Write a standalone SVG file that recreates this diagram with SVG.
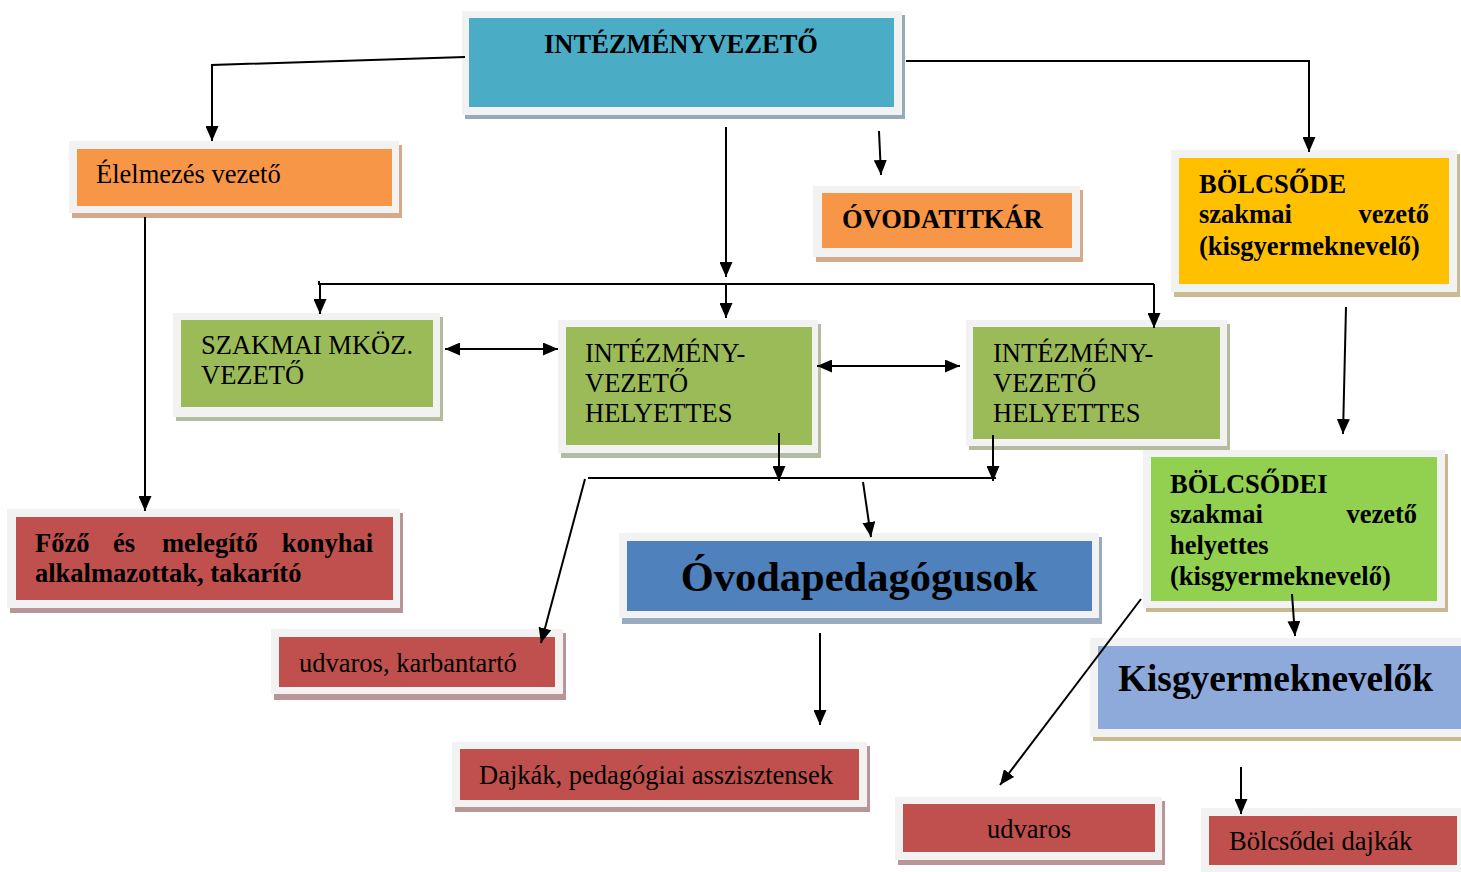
<svg xmlns="http://www.w3.org/2000/svg" width="1461" height="872" viewBox="0 0 1461 872">
<defs>
<marker id="ah" markerUnits="userSpaceOnUse" markerWidth="15" markerHeight="13" refX="15" refY="6.5" orient="auto-start-reverse" viewBox="0 0 15 13">
<path d="M0,0 L15,6.5 L0,13 z" fill="#000"/>
</marker>
<style>
.frame{fill:#f2f2f2}
.t{font-family:"Liberation Serif","Times New Roman",serif;font-size:26.5px;fill:#000}
.b{font-weight:bold}
.c{stroke:#000;stroke-width:2;fill:none}
.a{marker-end:url(#ah)}
.d{marker-start:url(#ah);marker-end:url(#ah)}
</style>
</defs>
<rect width="1461" height="872" fill="#fff"/>

<g id="intezmenyvezeto">
<rect x="465" y="15" width="440" height="104" fill="#93abb6"/>
<rect class="frame" x="462" y="11" width="440" height="104"/>
<rect x="469" y="18" width="425" height="89" fill="#4bacc6"/>
<text class="t b" x="681" y="53" text-anchor="middle">INTÉZMÉNYVEZETŐ</text>
</g>

<g id="elelmezes">
<rect x="72" y="145" width="330" height="73" fill="#d6a98a"/>
<rect class="frame" x="69" y="141" width="330" height="72"/>
<rect x="77" y="149" width="315" height="57" fill="#f79646"/>
<text class="t" x="96" y="183">Élelmezés vezető</text>
</g>

<g id="ovodatitkar">
<rect x="816" y="190" width="267" height="72" fill="#d6a98a"/>
<rect class="frame" x="813" y="186" width="267" height="71"/>
<rect x="822" y="193" width="250" height="55" fill="#f79646"/>
<text class="t b" x="842" y="228">ÓVODATITKÁR</text>
</g>

<g id="bolcsode">
<rect x="1174" y="154" width="286" height="143" fill="#cbbb93"/>
<rect class="frame" x="1171" y="150" width="286" height="142"/>
<rect x="1179" y="158" width="270" height="126" fill="#ffc000"/>
<text class="t b" x="1199" y="193">BÖLCSŐDE</text>
<text class="t b" x="1199" y="223">szakmai</text>
<text class="t b" x="1429" y="223" text-anchor="end">vezető</text>
<text class="t b" x="1199" y="255">(kisgyermeknevelő)</text>
</g>

<g id="szakmai">
<rect x="176" y="317" width="267" height="104" fill="#b3bc9e"/>
<rect class="frame" x="173" y="313" width="267" height="104"/>
<rect x="181" y="320" width="252" height="87" fill="#9bbb59"/>
<text class="t" x="201" y="354">SZAKMAI MKÖZ.</text>
<text class="t" x="201" y="384">VEZETŐ</text>
</g>

<g id="helyettes1">
<rect x="561" y="324" width="260" height="134" fill="#b3bc9e"/>
<rect class="frame" x="558" y="320" width="260" height="133"/>
<rect x="566" y="327" width="246" height="118" fill="#9bbb59"/>
<text class="t" x="585" y="362">INTÉZMÉNY-</text>
<text class="t" x="585" y="392">VEZETŐ</text>
<text class="t" x="585" y="422">HELYETTES</text>
</g>

<g id="helyettes2">
<rect x="969" y="324" width="261" height="126" fill="#b3bc9e"/>
<rect class="frame" x="966" y="320" width="261" height="126"/>
<rect x="973" y="327" width="247" height="112" fill="#9bbb59"/>
<text class="t" x="993" y="362">INTÉZMÉNY-</text>
<text class="t" x="993" y="392">VEZETŐ</text>
<text class="t" x="993" y="422">HELYETTES</text>
</g>

<g id="bolcsodei">
<rect x="1146" y="454" width="302" height="158" fill="#c8b78f"/>
<rect class="frame" x="1143" y="450" width="302" height="158"/>
<rect x="1151" y="457" width="286" height="144" fill="#92d050"/>
<text class="t b" x="1170" y="493">BÖLCSŐDEI</text>
<text class="t b" x="1170" y="523">szakmai</text>
<text class="t b" x="1417" y="523" text-anchor="end">vezető</text>
<text class="t b" x="1170" y="554">helyettes</text>
<text class="t b" x="1170" y="585">(kisgyermeknevelő)</text>
</g>

<g id="kisgyermeknevelok">
<rect x="1093" y="642" width="371" height="99" fill="#c8b78f"/>
<rect class="frame" x="1090" y="638" width="371" height="99"/>
<rect x="1098" y="646" width="363" height="83" fill="#8eaadb"/>
<text class="t b" x="1118" y="691" style="font-size:37.3px">Kisgyermeknevelők</text>
</g>

<g id="fozo">
<rect x="10" y="513" width="393" height="100" fill="#b99595"/>
<rect class="frame" x="7" y="509" width="393" height="99"/>
<rect x="16" y="517" width="377" height="83" fill="#c0504d"/>
<text class="t b" x="35" y="552">Főző</text>
<text class="t b" x="113" y="552">és</text>
<text class="t b" x="162" y="552">melegítő</text>
<text class="t b" x="373" y="552" text-anchor="end">konyhai</text>
<text class="t b" x="35" y="582">alkalmazottak, takarító</text>
</g>

<g id="ovodapedagogusok">
<rect x="622" y="537" width="480" height="87" fill="#9aaabf"/>
<rect class="frame" x="619" y="533" width="480" height="85"/>
<rect x="627" y="541" width="465" height="70" fill="#4f81bd"/>
<text class="t b" x="859" y="591" text-anchor="middle" style="font-size:42.5px">Óvodapedagógusok</text>
</g>

<g id="karbantarto">
<rect x="274" y="633" width="292" height="67" fill="#b99595"/>
<rect class="frame" x="271" y="629" width="292" height="65"/>
<rect x="279" y="637" width="276" height="50" fill="#c0504d"/>
<text class="t" x="299" y="672">udvaros, karbantartó</text>
</g>

<g id="dajkak">
<rect x="455" y="746" width="415" height="66" fill="#b99595"/>
<rect class="frame" x="452" y="742" width="415" height="65"/>
<rect x="460" y="749" width="399" height="51" fill="#c0504d"/>
<text class="t" x="479" y="784">Dajkák, pedagógiai asszisztensek</text>
</g>

<g id="udvaros">
<rect x="898" y="801" width="267" height="64" fill="#b99595"/>
<rect class="frame" x="895" y="797" width="267" height="63"/>
<rect x="903" y="804" width="252" height="48" fill="#c0504d"/>
<text class="t" x="1029" y="838" text-anchor="middle">udvaros</text>
</g>

<g id="bolcsodei-dajkak">
<rect class="frame" x="1201" y="808" width="260" height="64"/>
<rect x="1209" y="816" width="248" height="49" fill="#c0504d"/>
<text class="t" x="1229" y="850">Bölcsődei dajkák</text>
</g>

<g id="connectors">
<path class="c a" d="M465,57 L212,65 L212,141"/>
<path class="c a" d="M906,61 L1309,61 L1309,152"/>
<path class="c a" d="M726,127 L726,277"/>
<path class="c a" d="M879,131 L881,175"/>
<path class="c" d="M319,281 L319,284 L1154,284"/>
<path class="c a" d="M320,284 L320,314"/>
<path class="c a" d="M726,284 L726,318"/>
<path class="c a" d="M1154,284 L1154,328"/>
<path class="c d" d="M445,349 L558,349"/>
<path class="c d" d="M817,366 L960,366"/>
<path class="c a" d="M145,217 L145,511"/>
<path class="c a" d="M779,433 L779,481"/>
<path class="c a" d="M993,435 L993,481"/>
<path class="c" d="M588,478 L996,478"/>
<path class="c a" d="M585,479 L541,643"/>
<path class="c a" d="M863,482 L871,537"/>
<path class="c a" d="M820,633 L820,725"/>
<path class="c a" d="M1346,307 L1343,434"/>
<path class="c a" d="M1292,594 L1295,636"/>
<path class="c a" d="M1141,599 L1000,785"/>
<path class="c a" d="M1241,767 L1241,814"/>
</g>
</svg>
